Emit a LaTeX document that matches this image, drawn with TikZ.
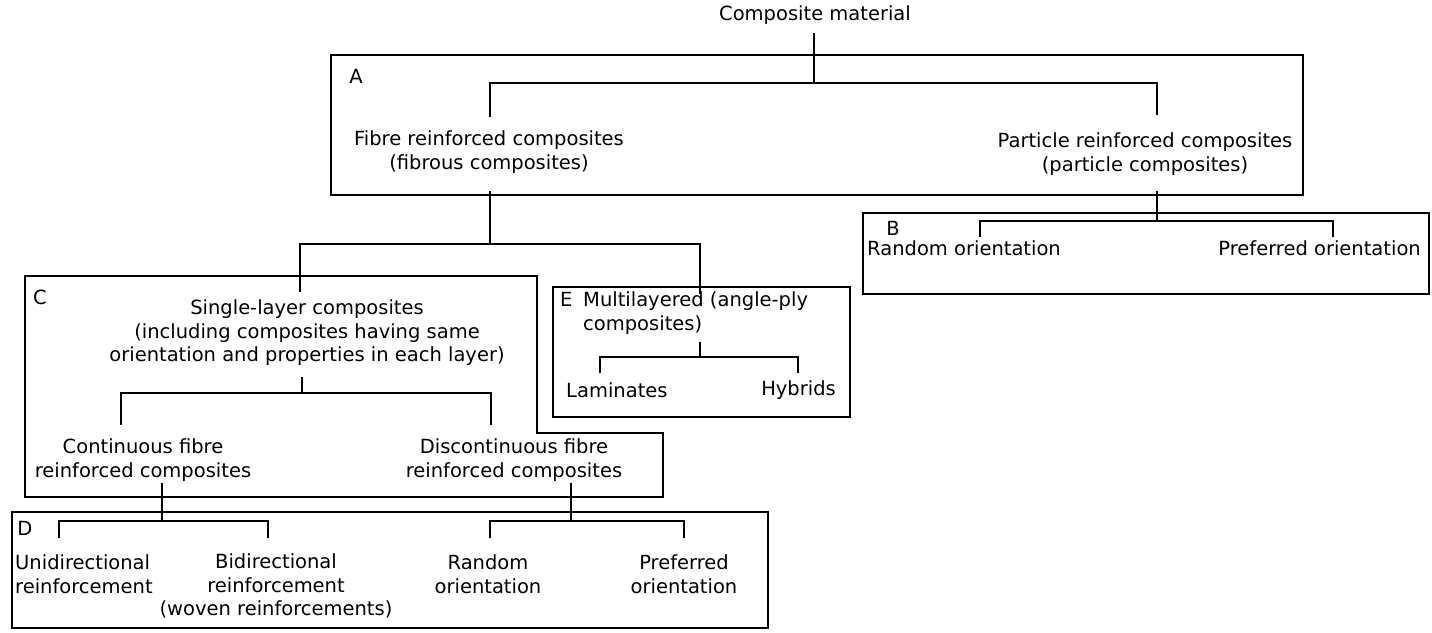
\documentclass[tikz,border=0pt]{standalone}
\usepackage{fontspec}
\setmainfont{DejaVu Sans}
\usetikzlibrary{calc}
\begin{document}
\begin{tikzpicture}[x=1pt,y=-1pt,
  txt/.style={font=\fontsize{19.5pt}{23.5pt}\selectfont, inner sep=0pt, align=center},
  boxline/.style={draw, line width=1.8pt, inner sep=0pt},
  conn/.style={line width=2.5pt}]
\useasboundingbox (0,0) rectangle (1432,632);

% boxes
\node[boxline, minimum width=972pt, minimum height=140pt] (boxA) at (817,125) {};
\node[boxline, minimum width=566pt, minimum height=81pt] (boxB) at (1146,253.5) {};
\draw[line width=1.8pt] (25,276) -- (537,276) -- (537,433) -- (663,433) -- (663,497) -- (25,497) -- cycle;
\node[boxline, minimum width=297pt, minimum height=130pt] (boxE) at (701.5,352) {};
\node[boxline, minimum width=756pt, minimum height=116pt] (boxD) at (390,570) {};

% labels
\node[txt] (labA) at (356,76) {A};
\node[txt] (labB) at (893,228) {B};
\node[txt] (labC) at (40,297) {C};
\node[txt] (labD) at (25,528) {D};

% texts
\node[txt] (title) at (815,15) {Composite material};
\node[txt] (fibre) at (489,152) {Fibre reinforced composites\\(fibrous composites)};
\node[txt] (particle) at (1145,154) {Particle reinforced composites\\(particle composites)};
\node[txt, anchor=west] (random1) at (867,248) {Random orientation};
\node[txt, anchor=east] (pref1) at (1421,248) {Preferred orientation};
\node[txt] (single) at (307,333) {Single-layer composites\\(including composites having same\\orientation and properties in each layer)};
\node[txt] (cont) at (143,460) {Continuous fibre\\reinforced composites};
\node[txt] (discont) at (514,460) {Discontinuous fibre\\reinforced composites};
\node[txt, anchor=west, align=left] (multi) at (560,313) {\makebox[23pt][l]{E}Multilayered (angle-ply\\\hspace*{23pt}composites)};
\node[txt, anchor=west] (lam) at (566,390) {Laminates};
\node[txt, anchor=east] (hyb) at (836,390) {Hybrids};
\node[txt, anchor=west, align=left] (uni) at (15,574) {Unidirectional\\reinforcement};
\node[txt] (bi) at (276,586) {Bidirectional\\reinforcement\\(woven reinforcements)};
\node[txt] (random2) at (488,574) {Random\\orientation};
\node[txt] (pref2) at (684,574) {Preferred\\orientation};

% connectors
\coordinate (jTop) at (814,83);
\coordinate (dF) at (490,117);
\coordinate (dP) at (1157,115);
\draw[conn] ($(title.south -| jTop)+(0,8)$) -- (jTop);
\draw[conn] (dF) |- (jTop) -| (dP);

\coordinate (jF) at (490,244);
\coordinate (dC) at (300,292);
\coordinate (dE) at (700,294);
\draw[conn] ($(boxA.south -| jF)+(0,-5)$) -- (jF);
\draw[conn] (dC) |- (jF) -| (dE);

\coordinate (jB) at (1157,221);
\coordinate (dB1) at (980,237);
\coordinate (dB2) at (1333,237);
\draw[conn] ($(boxA.south -| jB)+(0,-5)$) -- (jB);
\draw[conn] (dB1) |- (jB) -| (dB2);

\coordinate (sC) at (302,377);
\coordinate (jC) at (302,393);
\coordinate (dC1) at (121,425);
\coordinate (dC2) at (491,425);
\draw[conn] (sC) -- (jC);
\draw[conn] (dC1) |- (jC) -| (dC2);

\coordinate (sE) at (700,342);
\coordinate (jE) at (700,357);
\coordinate (dE1) at (600,373);
\coordinate (dE2) at (798,373);
\draw[conn] (sE) -- (jE);
\draw[conn] (dE1) |- (jE) -| (dE2);

\coordinate (sD1) at (162,483);
\coordinate (jD1) at (162,521);
\coordinate (dD1) at (59,538);
\coordinate (dD2) at (268,538);
\draw[conn] (sD1) -- (jD1);
\draw[conn] (dD1) |- (jD1) -| (dD2);

\coordinate (sD2) at (571,483);
\coordinate (jD2) at (571,521);
\coordinate (dD3) at (490,538);
\coordinate (dD4) at (684,538);
\draw[conn] (sD2) -- (jD2);
\draw[conn] (dD3) |- (jD2) -| (dD4);
\end{tikzpicture}
\end{document}
